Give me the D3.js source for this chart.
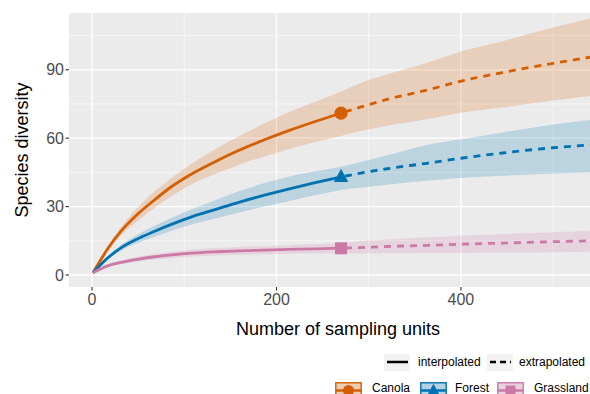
<!DOCTYPE html>
<html>
<head>
<meta charset="utf-8">
<script src="https://cdn.jsdelivr.net/npm/d3@7"></script>
<style>
  html, body { margin: 0; padding: 0; background: #fff; }
  svg { display: block; font-family: "Liberation Sans", Arial, sans-serif; }
</style>
</head>
<body>
<svg id="chart" width="590" height="394"></svg>
<script>
// Courbes de raréfaction / extrapolation (style iNEXT + ggplot)
const groups = ['Canola', 'Forest', 'Grassland'];
const colors = ['#D55E00', '#0072B2', '#CC79A7'];
const shapes = ['circle', 'triangle', 'square'];

// partie interpolée
const nInterp = [1, 17, 31, 49, 68, 86, 108, 135, 160, 187, 214, 242, 270];
const canolaInterp = [1, 11.5, 19, 26.5, 33, 38.7, 44.3, 50, 54.8, 59.3, 63.4, 67.3, 71];
const forestInterp = [1, 7.5, 11.8, 15.8, 19.2, 22.2, 25.5, 28.9, 32, 35, 37.8, 40.5, 43];
const grassInterp = [1, 4, 5.5, 6.9, 8, 8.8, 9.6, 10.2, 10.6, 10.9, 11.2, 11.5, 11.7];
const canolaInterpLo = [1, 10.3, 17.2, 23.6, 29.5, 34.5, 39.8, 44.5, 48.5, 52, 55.3, 58.3, 61];
const canolaInterpHi = [1, 12.7, 20.8, 29.4, 36.7, 42.5, 48.8, 55.5, 61, 66.5, 71.5, 76, 80.5];
const forestInterpLo = [1, 6.8, 10.6, 14, 16.8, 19.4, 22.2, 24.9, 27.4, 30, 32.5, 35, 37.3];
const forestInterpHi = [1, 8.2, 13, 17.6, 21.6, 25, 28.8, 33, 36.8, 40.3, 43.2, 45.5, 47.5];
const grassInterpLo = [1, 3.4, 4.7, 5.8, 6.8, 7.4, 8.1, 8.6, 8.9, 9.1, 9.3, 9.4, 9.5];
const grassInterpHi = [1, 4.6, 6.3, 8, 9.2, 10.2, 11.1, 11.8, 12.3, 12.7, 13.2, 13.6, 14];

// partie extrapolée
const nExtrap = [270, 290, 320, 363, 400, 445, 500, 540];
const canolaExtrap = [71, 73.5, 77, 81.1, 85, 88.8, 92.8, 95.5];
const forestExtrap = [43, 44.6, 46.6, 49, 51.2, 53.5, 55.8, 57];
const grassExtrap = [11.7, 12, 12.5, 13, 13.5, 14, 14.6, 15];
const canolaExtrapLo = [61, 63, 65.5, 68.3, 71.2, 73.5, 76.5, 78.5];
const canolaExtrapHi = [80.5, 84, 88, 93, 98, 102.5, 108.5, 112.5];
const forestExtrapLo = [37.3, 38.3, 39.6, 41.3, 42.5, 43.5, 44.5, 45];
const forestExtrapHi = [47.5, 49.5, 52.5, 57, 59.5, 62.5, 66, 68];
const grassExtrapLo = [9.5, 9.5, 9.5, 9.6, 9.7, 9.8, 10, 10.2];
const grassExtrapHi = [14, 14.8, 15.6, 16.6, 17.2, 18, 18.8, 19.4];

// observé (point de référence)
const nObs = 270;
const obsValues = [71, 43, 11.7];

const xTicks = [0, 200, 400];
const xMinor = [100, 300, 500];
const yTicks = [0, 30, 60, 90];
const yMinor = [15, 45, 75, 105];

const series = [
  { interp: canolaInterp, lo: canolaInterpLo, hi: canolaInterpHi, extrap: canolaExtrap, elo: canolaExtrapLo, ehi: canolaExtrapHi },
  { interp: forestInterp, lo: forestInterpLo, hi: forestInterpHi, extrap: forestExtrap, elo: forestExtrapLo, ehi: forestExtrapHi },
  { interp: grassInterp, lo: grassInterpLo, hi: grassInterpHi, extrap: grassExtrap, elo: grassExtrapLo, ehi: grassExtrapHi }
];

const svg = d3.select('#chart');
const P = { left: 69, right: 590, top: 13, bottom: 287 };

const x = d3.scaleLinear().domain([-25, 540]).range([P.left, P.right]);
const y = d3.scaleLinear().domain([-5.26, 114.9]).range([P.bottom, P.top]);

svg.append('defs').append('clipPath').attr('id', 'panel-clip')
  .append('rect').attr('x', P.left).attr('y', P.top)
  .attr('width', P.right - P.left).attr('height', P.bottom - P.top);

// fond du panneau
svg.append('rect')
  .attr('x', P.left).attr('y', P.top)
  .attr('width', P.right - P.left).attr('height', P.bottom - P.top)
  .attr('fill', '#EBEBEB');

const grid = svg.append('g').attr('clip-path', 'url(#panel-clip)');
yMinor.forEach(v => grid.append('line')
  .attr('x1', P.left).attr('x2', P.right).attr('y1', y(v)).attr('y2', y(v))
  .attr('stroke', '#fff').attr('stroke-width', 0.6));
xMinor.forEach(v => grid.append('line')
  .attr('x1', x(v)).attr('x2', x(v)).attr('y1', P.top).attr('y2', P.bottom)
  .attr('stroke', '#fff').attr('stroke-width', 0.6));
yTicks.forEach(v => grid.append('line')
  .attr('x1', P.left).attr('x2', P.right).attr('y1', y(v)).attr('y2', y(v))
  .attr('stroke', '#fff').attr('stroke-width', 1.3));
xTicks.forEach(v => grid.append('line')
  .attr('x1', x(v)).attr('x2', x(v)).attr('y1', P.top).attr('y2', P.bottom)
  .attr('stroke', '#fff').attr('stroke-width', 1.3));

const plot = svg.append('g').attr('clip-path', 'url(#panel-clip)');

const area = d3.area()
  .x(d => x(d.n)).y0(d => y(d.lo)).y1(d => y(d.hi))
  .curve(d3.curveMonotoneX);
const line = d3.line()
  .x(d => x(d.n)).y(d => y(d.v))
  .curve(d3.curveMonotoneX);

// rubans de confiance
series.forEach((s, i) => {
  const band = nInterp.map((n, j) => ({ n, lo: s.lo[j], hi: s.hi[j] }))
    .concat(nExtrap.slice(1).map((n, j) => ({ n, lo: s.elo[j + 1], hi: s.ehi[j + 1] })));
  plot.append('path').attr('d', area(band))
    .attr('fill', colors[i]).attr('fill-opacity', 0.2);
});

// courbes
series.forEach((s, i) => {
  plot.append('path')
    .attr('d', line(nInterp.map((n, j) => ({ n, v: s.interp[j] }))))
    .attr('fill', 'none').attr('stroke', colors[i]).attr('stroke-width', 2.8);
  plot.append('path')
    .attr('d', line(nExtrap.map((n, j) => ({ n, v: s.extrap[j] }))))
    .attr('fill', 'none').attr('stroke', colors[i]).attr('stroke-width', 2.8)
    .attr('stroke-dasharray', '7,6').attr('stroke-dashoffset', -4);
});

function drawShape(g, shape, cx, cy, color, size) {
  if (shape === 'circle') {
    g.append('circle').attr('cx', cx).attr('cy', cy).attr('r', size * 0.55).attr('fill', color);
  } else if (shape === 'triangle') {
    const h = size * 1.1, w = size * 1.2;
    g.append('path')
      .attr('d', `M${cx},${cy - h * 0.62}L${cx + w / 2},${cy + h * 0.38}L${cx - w / 2},${cy + h * 0.38}Z`)
      .attr('fill', color);
  } else {
    g.append('rect').attr('x', cx - size / 2).attr('y', cy - size / 2)
      .attr('width', size).attr('height', size).attr('fill', color);
  }
}

obsValues.forEach((v, i) => drawShape(plot, shapes[i], x(nObs), y(v), colors[i], 12));

// axes
const axisG = svg.append('g');
const tickColor = '#333333', labelColor = '#4D4D4D';
yTicks.forEach(v => {
  axisG.append('line').attr('x1', P.left - 3.5).attr('x2', P.left)
    .attr('y1', y(v)).attr('y2', y(v)).attr('stroke', tickColor).attr('stroke-width', 1.1);
  axisG.append('text').attr('x', P.left - 5).attr('y', y(v))
    .attr('text-anchor', 'end').attr('dominant-baseline', 'central')
    .style('font-size', '16px').style('fill', labelColor).text(v);
});
xTicks.forEach(v => {
  axisG.append('line').attr('x1', x(v)).attr('x2', x(v))
    .attr('y1', P.bottom).attr('y2', P.bottom + 3.5).attr('stroke', tickColor).attr('stroke-width', 1.1);
  axisG.append('text').attr('x', x(v)).attr('y', P.bottom + 18)
    .attr('text-anchor', 'middle')
    .style('font-size', '16px').style('fill', labelColor).text(v);
});

svg.append('text').attr('x', 338).attr('y', 335)
  .attr('text-anchor', 'middle').style('font-size', '18px').style('fill', '#000')
  .text('Number of sampling units');
svg.append('text').attr('transform', 'translate(28,150) rotate(-90)')
  .attr('text-anchor', 'middle').style('font-size', '18px').style('fill', '#000')
  .text('Species diversity');

// légende : type de méthode
const leg = svg.append('g');
const methods = [
  { label: 'interpolated', dash: null, kx: 384, tx: 418 },
  { label: 'extrapolated', dash: '6,4', kx: 487, tx: 519 }
];
methods.forEach(m => {
  leg.append('rect').attr('x', m.kx).attr('y', 354).attr('width', 26).attr('height', 17).attr('fill', '#F2F2F2');
  leg.append('line').attr('x1', m.kx + 3).attr('x2', m.kx + 24).attr('y1', 362).attr('y2', 362)
    .attr('stroke', '#000').attr('stroke-width', 2.5)
    .attr('stroke-dasharray', m.dash);
  leg.append('text').attr('x', m.tx).attr('y', 366)
    .style('font-size', '12px').style('fill', '#000').text(m.label);
});

// légende : groupes
const groupKeys = [335, 420, 497];
const groupText = [372, 455, 534];
groups.forEach((name, i) => {
  const kx = groupKeys[i], ky = 382;
  leg.append('rect').attr('x', kx).attr('y', ky).attr('width', 27).attr('height', 17).attr('fill', '#F2F2F2');
  leg.append('rect').attr('x', kx + 0.8).attr('y', ky + 0.8).attr('width', 25.4).attr('height', 15.4)
    .attr('fill', colors[i]).attr('fill-opacity', 0.25).attr('stroke', colors[i]).attr('stroke-width', 1.4);
  leg.append('line').attr('x1', kx + 1).attr('x2', kx + 26).attr('y1', ky + 8.5).attr('y2', ky + 8.5)
    .attr('stroke', colors[i]).attr('stroke-width', 2.5);
  drawShape(leg, shapes[i], kx + 13.5, ky + 8.5, colors[i], 10);
  leg.append('text').attr('x', groupText[i]).attr('y', 392)
    .style('font-size', '12px').style('fill', '#000').text(name);
});
</script>
</body>
</html>
